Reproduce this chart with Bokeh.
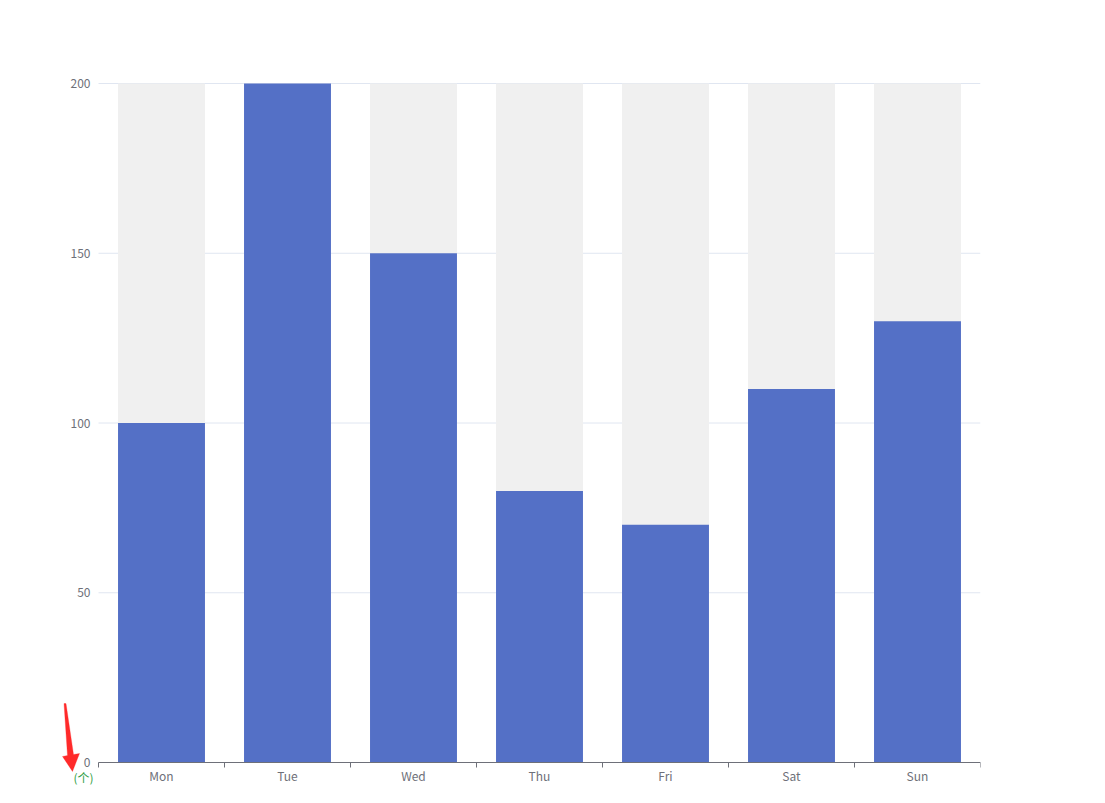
from bokeh.plotting import figure
from bokeh.models import (Range1d, FixedTicker, PolyAnnotation, Label, ColumnDataSource)
from bokeh.embed import file_html
from bokeh.resources import INLINE
from bokeh.core.properties import value

days = ["Mon", "Tue", "Wed", "Thu", "Fri", "Sat", "Sun"]
values = [100, 200, 150, 80, 70, 110, 130]
y_max = 200
y_ticks = [0, 50, 100, 150, 200]
unit_label = "(个)"

n = len(days)
xs = [i + 0.5 for i in range(n)]
src = ColumnDataSource(dict(x=xs, top=values, bg=[y_max] * n, label=days))

# frame is widened so the hand-drawn arrow and unit label (outside the grid) are not clipped
px_per_x = 126.0
px_per_y = 679.0 / y_max
W, H = 1097, 795
p = figure(width=W, height=H, output_backend="svg", toolbar_location=None,
           x_range=Range1d(-43 / px_per_x, n), y_range=Range1d(-22 / px_per_y, y_max + 8 / px_per_y),
           min_border_left=55, min_border_right=117, min_border_top=75, min_border_bottom=11)
p.outline_line_color = None
p.background_fill_color = "white"
p.border_fill_color = "white"

font = "Noto Sans CJK SC"
gray = "#6e7079"

# horizontal grid lines over the category span only
p.segment(x0=0, x1=n, y0=y_ticks, y1=y_ticks, line_color="#e0e6f1", line_width=1, level="underlay")

bw = 0.69
p.vbar(x="x", top="bg", width=bw, source=src, color="#f0f0f0", line_color=None)
p.vbar(x="x", top="top", width=bw, source=src, color="#5470c6", line_color=None)

# category labels under the axis
p.text(x="x", y=0, text="label", source=src, y_offset=13, text_align="center", text_baseline="middle",
       text_color=gray, text_font=value(font), text_font_size="12px")

# x axis: line and boundary ticks at y=0
p.xgrid.visible = False
p.ygrid.visible = False
p.xaxis.fixed_location = 0
p.xaxis.bounds = (0, n)
p.xaxis.ticker = FixedTicker(ticks=list(range(n + 1)))
p.xaxis.major_label_overrides = {i: "" for i in range(n + 1)}
p.xaxis.major_label_text_font_size = "1px"
p.xaxis.major_label_standoff = 0
p.xaxis.major_tick_out = 5
p.xaxis.major_tick_in = 0
p.xaxis.minor_tick_line_color = None
p.xaxis.major_tick_line_color = gray
p.xaxis.axis_line_color = gray

# y axis at x=0
p.yaxis.fixed_location = 0
p.yaxis.ticker = FixedTicker(ticks=y_ticks)
p.yaxis.axis_line_color = None
p.yaxis.major_tick_line_color = None
p.yaxis.minor_tick_line_color = None
p.yaxis.major_tick_out = 0
p.yaxis.major_tick_in = 0
p.yaxis.major_label_standoff = 8
p.yaxis.major_label_text_color = gray
p.yaxis.major_label_text_font = font
p.yaxis.major_label_text_font_size = "12px"

# unit label and red arrow annotation (canvas pixel units, origin at figure top-left)
arrow_x = [63.5, 65.5, 73, 79, 72, 62, 67]
arrow_y = [703, 703, 754, 753, 771, 756, 755]
p.add_layout(PolyAnnotation(xs=arrow_x, ys=arrow_y, xs_units="canvas", ys_units="canvas",
                            fill_color="#ff2a2a", fill_alpha=1.0, line_color="#ff2a2a",
                            line_width=1))
p.add_layout(Label(x=83, y=777, x_units="canvas", y_units="canvas", text=unit_label,
                   text_align="center", text_baseline="middle",
                   text_color="#2f9e44", text_font=font, text_font_size="12px"))

open("out.html", "w").write(file_html(p, INLINE))
